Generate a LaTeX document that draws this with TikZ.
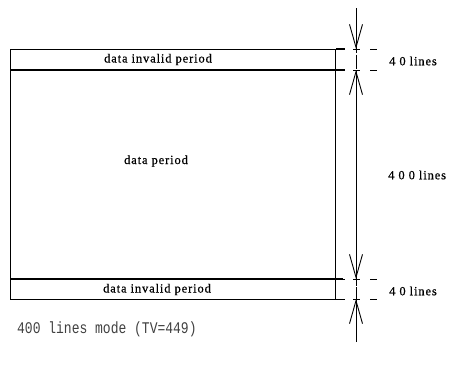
\documentclass[tikz,border=0pt]{standalone}
\usepackage{fontspec}
\setmainfont{Liberation Serif}
\newfontfamily\lblfont[LetterSpace=7,FakeBold=0.6]{Liberation Serif}
\newfontfamily\modefont{Liberation Mono}
\usetikzlibrary{arrows.meta}
\tikzset{
  frameline/.style={line width=1.1pt, black},
  bandtext/.style={inner sep=0pt, font=\lblfont\fontsize{12.5}{14}\selectfont},
  dimtext/.style={inner sep=0pt, anchor=west, font=\lblfont\fontsize{12.5}{14}\selectfont},
  extline/.style={line width=1pt, dash pattern=on 10pt off 8pt on 7pt off 10pt on 7pt off 40pt},
  dimline/.style={line width=0.7pt, dash pattern=on 14pt off 1.5pt},
  dimarrow/.style={line width=0.8pt, -{Straight Barb[length=23pt,width=13pt,line width=0.9pt]}},
  modetext/.style={inner sep=0pt, anchor=west, text=black!75, yscale=1.25, font=\modefont\fontsize{13}{15}\selectfont}
}
\begin{document}
\begin{tikzpicture}[x=1pt,y=-1pt]
\useasboundingbox (0,0) rectangle (459,367);
% frame
\node[draw, frameline, inner sep=0pt, minimum width=325pt, minimum height=250pt, anchor=north west] (frame) at (10,49) {};
\coordinate (t1) at (10,70);
\coordinate (t2) at (10,279);
\draw[frameline] (t1) -- (345,70);
\draw[frameline] (t2) -- (343,279);
\draw[frameline] (frame.north east) -- (345,49);
% texts
\node[bandtext] (topband) at (158,59.5) {data invalid period};
\node[bandtext] (mid) at (156,161) {data period};
\node[bandtext] (botband) at (157,289.5) {data invalid period};
% extension lines
\coordinate (e1) at (335,49);
\coordinate (e2) at (335,70);
\coordinate (e3) at (335,279);
\coordinate (e4) at (335,299);
\coordinate (f1) at (377,49);
\coordinate (f2) at (377,70);
\coordinate (f3) at (377,279);
\coordinate (f4) at (377,299);
\draw[extline] (e1) -- (f1);
\draw[extline] (e2) -- (f2);
\draw[extline] (e3) -- (f3);
\draw[extline] (e4) -- (f4);
% dimension line
\coordinate (dtop) at (356,8);
\coordinate (dbot) at (356,342);
\coordinate (a1) at (356,49);
\coordinate (a2) at (356,70);
\coordinate (a3) at (356,279);
\coordinate (a4) at (356,299);
\coordinate (dmid) at (356,175);
\draw[dimline] (dtop) -- (dbot);
\draw[dimarrow] (dtop) -- (a1);
\draw[dimarrow] (dmid) -- (a2);
\draw[dimarrow] (dmid) -- (a3);
\draw[dimarrow] (dbot) -- (a4);
% dimension labels
\node[dimtext] (l1) at (389,61) {4 0 lines};
\node[dimtext] (l2) at (388,175) {4 0 0 lines};
\node[dimtext] (l3) at (389,291) {4 0 lines};
% mode caption
\node[modetext] (mode) at (17,329) {400 lines mode (TV=449)};
\end{tikzpicture}
\end{document}
